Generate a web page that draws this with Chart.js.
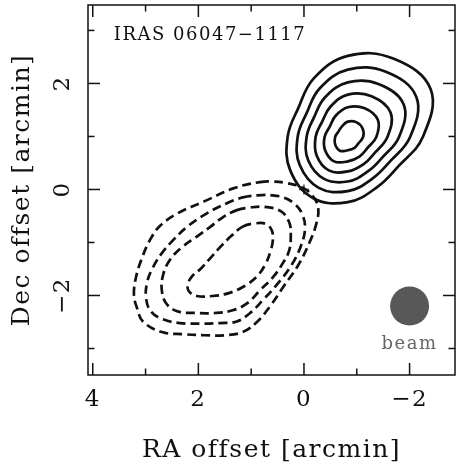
<!DOCTYPE html>
<html>
<head>
<meta charset="utf-8">
<script src="https://cdn.jsdelivr.net/npm/chart.js@4/dist/chart.umd.min.js"></script>
<style>
html,body{margin:0;padding:0;background:#fff;}
#c{display:block;}
</style>
</head>
<body>
<canvas id="c" width="456" height="470"></canvas>
<script>
// ---- tick values / labels ----
const xMajorTicks = [4, 2, 0, -2];
const xMinorTicks = [3, 1, -1];
const yMajorTicks = [2, 0, -2];
const yMinorTicks = [3, 1, -1, -3];
const xAxisTitle = 'RA offset [arcmin]';
const yAxisTitle = 'Dec offset [arcmin]';
const sourceName = 'IRAS 06047\u22121117';
const beamLabel = 'beam';

// ---- marks ----
const beamCentre = [{x: -2.0, y: -2.2}];
const phaseCentre = [{x: 0, y: 0}];
const sourceNamePos = {x: 3.6, y: 2.91};
const beamLabelPos = {x: -2.0, y: -2.915};

// ---- positive (solid) contours, outermost first: [RA, Dec] ----
const pos1 = [[-2.25,0.99],[-2.40,1.89],[-1.69,2.47],[-0.83,2.52],[-0.19,2.10],[0.11,1.53],[0.31,0.99],[0.26,0.36],[-0.17,-0.16],[-0.83,-0.24],[-1.38,0.04],[-1.79,0.44]];
const pos2 = [[-2.01,0.99],[-2.13,1.74],[-1.55,2.22],[-0.83,2.26],[-0.30,1.91],[-0.05,1.44],[0.12,0.99],[0.08,0.46],[-0.28,0.03],[-0.83,-0.03],[-1.29,0.20],[-1.63,0.53]];
const pos3 = [[-1.80,0.99],[-1.89,1.60],[-1.41,1.99],[-0.83,2.02],[-0.40,1.74],[-0.19,1.36],[-0.05,0.99],[-0.08,0.55],[-0.38,0.20],[-0.83,0.15],[-1.21,0.34],[-1.49,0.61]];
const pos4 = [[-1.58,0.99],[-1.64,1.45],[-1.28,1.76],[-0.83,1.79],[-0.50,1.56],[-0.34,1.27],[-0.22,0.99],[-0.24,0.64],[-0.47,0.36],[-0.83,0.34],[-1.13,0.48],[-1.34,0.69]];
const pos5 = [[-1.37,0.99],[-1.40,1.31],[-1.15,1.53],[-0.83,1.55],[-0.60,1.39],[-0.49,1.19],[-0.39,0.99],[-0.40,0.74],[-0.57,0.53],[-0.83,0.53],[-1.05,0.62],[-1.20,0.78]];
const pos6 = [[-1.12,0.99],[-1.11,1.15],[-0.99,1.27],[-0.83,1.28],[-0.72,1.19],[-0.65,1.09],[-0.59,0.99],[-0.59,0.85],[-0.68,0.73],[-0.83,0.74],[-0.95,0.78],[-1.03,0.87]];

// ---- negative (dashed) contours, outermost first ----
const neg1 = [[0.83,0.14],[0.59,0.15],[0.32,0.12],[0.02,0.03],[-0.17,-0.13],[-0.27,-0.35],[-0.23,-0.66],[-0.10,-1.01],[0.11,-1.43],[0.38,-1.82],[0.64,-2.20],[0.89,-2.50],[1.16,-2.69],[1.50,-2.75],[1.88,-2.75],[2.29,-2.73],[2.69,-2.69],[3.05,-2.49],[3.16,-2.24],[3.22,-1.99],[3.18,-1.65],[3.07,-1.30],[2.92,-0.96],[2.73,-0.69],[2.39,-0.45],[1.88,-0.22],[1.31,0.03]];
const neg2 = [[1.16,-0.15],[0.87,-0.11],[0.61,-0.11],[0.36,-0.16],[0.17,-0.28],[0.04,-0.45],[-0.02,-0.73],[0.06,-1.07],[0.25,-1.45],[0.51,-1.79],[0.78,-2.09],[1.02,-2.33],[1.27,-2.49],[1.59,-2.52],[1.97,-2.53],[2.35,-2.52],[2.67,-2.45],[2.90,-2.30],[2.99,-2.05],[2.97,-1.75],[2.86,-1.47],[2.69,-1.20],[2.50,-0.98],[2.22,-0.71],[1.84,-0.45],[1.46,-0.26]];
const neg3 = [[1.27,-0.39],[1.02,-0.34],[0.74,-0.33],[0.44,-0.41],[0.28,-0.62],[0.25,-0.88],[0.28,-1.15],[0.40,-1.39],[0.59,-1.66],[0.83,-1.90],[1.08,-2.15],[1.35,-2.28],[1.69,-2.33],[2.06,-2.33],[2.39,-2.30],[2.60,-2.16],[2.69,-1.92],[2.67,-1.62],[2.54,-1.33],[2.31,-1.09],[2.03,-0.89],[1.78,-0.71],[1.53,-0.52]];
const neg4 = [[1.16,-0.70],[0.93,-0.64],[0.72,-0.65],[0.61,-0.77],[0.59,-0.96],[0.63,-1.15],[0.72,-1.39],[0.89,-1.64],[1.14,-1.83],[1.44,-1.96],[1.74,-2.01],[2.03,-2.01],[2.18,-1.92],[2.20,-1.79],[2.12,-1.64],[1.95,-1.49],[1.76,-1.28],[1.57,-1.07],[1.38,-0.88]];

const positiveContours = [pos1, pos2, pos3, pos4, pos5, pos6];
const negativeContours = [neg1, neg2, neg3, neg4];

// closed loop: [last, p0 .. last, p0, p1]; the two end segments are hidden so every
// visible segment has proper neighbours for the spline
const loop = a => [a[a.length - 1]].concat(a, [a[0], a[1]]).map(([x, y]) => ({x, y}));
const hideEnds = ctx => {
  const n = ctx.chart.data.datasets[ctx.datasetIndex].data.length;
  return (ctx.p0DataIndex === 0 || ctx.p1DataIndex === n - 1) ? 'rgba(0,0,0,0)' : undefined;
};

const FONT = 'DejaVu Serif';
const INK = '#111';
const SPACING = '1.5px';

const spacingPlugin = {
  id: 'spacing',
  beforeLayout(chart) { chart.ctx.letterSpacing = SPACING; },
  beforeDraw(chart) { chart.ctx.letterSpacing = SPACING; }
};

const framePlugin = {
  id: 'frame',
  afterDraw(chart) {
    const {ctx, chartArea: a, scales: {x, y}} = chart;
    ctx.save();
    ctx.strokeStyle = INK;
    ctx.lineWidth = 1.5;
    ctx.lineCap = 'butt';
    ctx.strokeRect(a.left, a.top, a.right - a.left, a.bottom - a.top);
    const seg = (x0, y0, x1, y1) => { ctx.beginPath(); ctx.moveTo(x0, y0); ctx.lineTo(x1, y1); ctx.stroke(); };
    const xt = (v, len) => { const p = x.getPixelForValue(v); seg(p, a.bottom, p, a.bottom - len); seg(p, a.top, p, a.top + len); };
    const yt = (v, len) => { const p = y.getPixelForValue(v); seg(a.left, p, a.left + len, p); seg(a.right, p, a.right - len, p); };
    xMajorTicks.forEach(v => xt(v, 12));
    xMinorTicks.forEach(v => xt(v, 6.5));
    yMajorTicks.forEach(v => yt(v, 12));
    yMinorTicks.forEach(v => yt(v, 6.5));
    ctx.letterSpacing = SPACING;
    ctx.textBaseline = 'middle';
    ctx.fillStyle = INK;
    ctx.font = '18px "' + FONT + '"';
    ctx.textAlign = 'left';
    ctx.fillText(sourceName, x.getPixelForValue(sourceNamePos.x), y.getPixelForValue(sourceNamePos.y));
    ctx.fillStyle = '#666';
    ctx.textAlign = 'center';
    ctx.fillText(beamLabel, x.getPixelForValue(beamLabelPos.x), y.getPixelForValue(beamLabelPos.y));
    ctx.restore();
  }
};

const fmt = v => (v < 0 ? '\u2212' + Math.abs(v) : String(v));

const datasets = [];
positiveContours.forEach(c => datasets.push({
  data: loop(c), showLine: true, tension: 0.4, borderColor: INK, borderWidth: 2.7,
  pointRadius: 0, fill: false, segment: {borderColor: hideEnds}
}));
negativeContours.forEach(c => datasets.push({
  data: loop(c), showLine: true, tension: 0.4, borderColor: INK, borderWidth: 2.7,
  borderDash: [9, 5], pointRadius: 0, fill: false, segment: {borderColor: hideEnds}
}));
datasets.push({data: phaseCentre, pointStyle: 'cross', pointRadius: 5, borderColor: '#444', borderWidth: 1.5, showLine: false});
datasets.push({data: beamCentre, pointStyle: 'circle', pointRadius: 19.5, backgroundColor: '#585858', borderColor: '#585858', borderWidth: 0, showLine: false});

new Chart(document.getElementById('c'), {
  type: 'scatter',
  data: {datasets},
  options: {
    responsive: false,
    animation: false,
    events: [],
    devicePixelRatio: 1,
    layout: {autoPadding: false, padding: {left: 0, right: 1, top: 5, bottom: 0}},
    plugins: {legend: {display: false}, tooltip: {enabled: false}},
    scales: {
      x: {
        type: 'linear', reverse: true, min: -2.86, max: 4.09,
        grid: {display: false, drawTicks: false},
        border: {display: false},
        afterBuildTicks: s => { s.ticks = xMajorTicks.map(v => ({value: v})); },
        afterFit: s => { s.height = 95; s.paddingLeft = 0; s.paddingRight = 0; },
        ticks: {font: {family: FONT, size: 23}, color: INK, padding: 11, callback: v => fmt(v), maxRotation: 0, autoSkip: false},
        title: {display: true, text: xAxisTitle, font: {family: FONT, size: 25}, color: INK, padding: {top: 0, bottom: 5}}
      },
      y: {
        type: 'linear', min: -3.5, max: 3.48,
        grid: {display: false, drawTicks: false},
        border: {display: false},
        afterBuildTicks: s => { s.ticks = yMajorTicks.map(v => ({value: v})); },
        afterFit: s => { s.width = 88; s.paddingTop = 0; s.paddingBottom = 0; },
        ticks: {font: {family: FONT, size: 23}, color: INK, padding: 7, callback: v => fmt(v), minRotation: 90, maxRotation: 90, crossAlign: 'center', autoSkip: false},
        title: {display: true, text: yAxisTitle, font: {family: FONT, size: 25}, color: INK, padding: {top: 7, bottom: 0}}
      }
    }
  },
  plugins: [spacingPlugin, framePlugin]
});
</script>
</body>
</html>
